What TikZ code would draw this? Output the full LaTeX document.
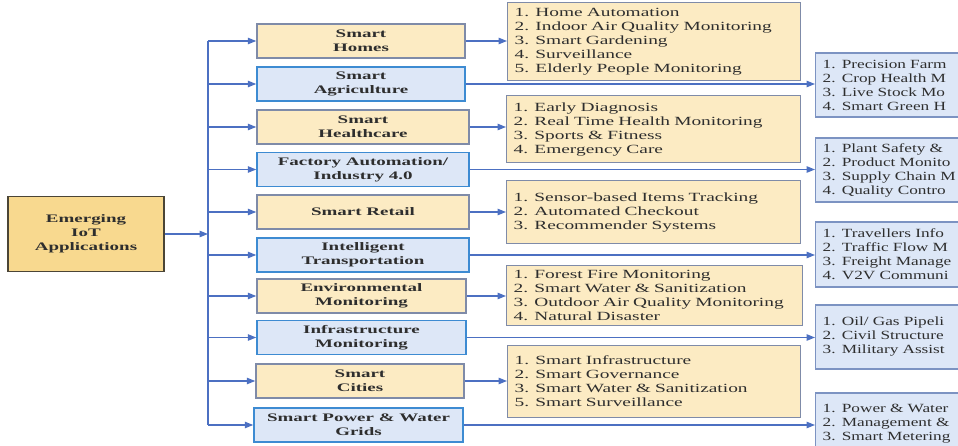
\documentclass[tikz,border=0pt]{standalone}
\usepackage{fontspec}
\usetikzlibrary{arrows.meta}
\setmainfont{Liberation Serif}
\newfontfamily\listfont[FakeStretch=1.55]{Liberation Serif}
\newfontfamily\sidefont[FakeStretch=1.38]{Liberation Serif}
\newfontfamily\catfont[FakeStretch=1.65]{Liberation Serif}

\definecolor{rootfill}{HTML}{F8D98F}
\definecolor{rootedge}{HTML}{4B4536}
\definecolor{orfill}{HTML}{FCEBC3}
\definecolor{oredge}{HTML}{7F8BA8}
\definecolor{blfill}{HTML}{DDE7F7}
\definecolor{bledge}{HTML}{3D8BD2}
\definecolor{rledge}{HTML}{7C93C2}
\definecolor{arrowc}{HTML}{4C70C2}
\definecolor{inkc}{HTML}{2E2E2E}

\tikzset{
  catstyle/.style={font=\catfont\bfseries\fontsize{11.5}{14}\selectfont, text=inkc, align=center},
  liststyle/.style={font=\listfont\fontsize{12.5}{14}\selectfont, text=inkc, align=left},
  sidestyle/.style={font=\sidefont\fontsize{12.5}{14}\selectfont, text=inkc, align=left},
  rootbox/.style={draw=rootedge, fill=rootfill, line width=1.6pt, catstyle,
    minimum width=156pt, minimum height=75pt, inner sep=0pt},
  catO/.style={draw=oredge, fill=orfill, line width=1.5pt, catstyle,
    minimum height=34pt, inner sep=0pt},
  catB/.style={draw=bledge, fill=blfill, line width=1.5pt, catstyle,
    minimum height=34pt, inner sep=0pt},
  listO/.style={draw=oredge, fill=orfill, line width=1.3pt, liststyle,
    anchor=north west, inner xsep=7pt, inner ysep=0pt},
  listB/.style={draw=rledge, fill=blfill, line width=1.3pt, sidestyle,
    anchor=west, inner xsep=7pt, inner ysep=0pt, text width=156pt, minimum width=170pt},
  conn/.style={draw=arrowc, line width=1.2pt},
  arr/.style={conn, -{Triangle[length=8.5pt,width=6.5pt]}},
}

\begin{document}
\begin{tikzpicture}[x=1pt,y=-1pt]
\useasboundingbox (0,0) rectangle (958,446);
\clip (0,0) rectangle (958,446);

% root of the tree
\node[rootbox] (root) at (86,234) {Emerging\\IoT\\Applications};

% application areas
\node[catO, minimum width=208pt] (homes)  at (361,41)    {Smart\\Homes};
\node[catB, minimum width=208pt] (agri)   at (361,84)    {Smart\\Agriculture};
\node[catO, minimum width=212pt] (health) at (363,127)   {Smart\\Healthcare};
\node[catB, minimum width=212pt] (fact)   at (363,169.5) {Factory Automation/\\Industry 4.0};
\node[catO, minimum width=212pt] (retail) at (363,212)   {Smart Retail};
\node[catB, minimum width=212pt] (trans)  at (363,255)   {Intelligent\\Transportation};
\node[catO, minimum width=209pt] (env)    at (361.5,296) {Environmental\\Monitoring};
\node[catB, minimum width=209pt] (infra)  at (361.5,337.5) {Infrastructure\\Monitoring};
\node[catO, minimum width=208pt] (cities) at (360,381)   {Smart\\Cities};
\node[catB, minimum width=209pt] (power)  at (358.5,425) {Smart Power \& Water\\Grids};

% use-case lists, middle column
\node[listO, text width=279pt, minimum height=78pt] (lhomes) at (507,2)
  {1. Home Automation\\2. Indoor Air Quality Monitoring\\3. Smart Gardening\\4. Surveillance\\5. Elderly People Monitoring};
\node[listO, text width=280pt, minimum height=67pt] (lhealth) at (506,95)
  {1. Early Diagnosis\\2. Real Time Health Monitoring\\3. Sports \& Fitness\\4. Emergency Care};
\node[listO, text width=280pt, minimum height=63pt] (lretail) at (506,180)
  {1. Sensor-based Items Tracking\\2. Automated Checkout\\3. Recommender Systems};
\node[listO, text width=282pt, minimum height=60pt] (lenv) at (506,265)
  {1. Forest Fire Monitoring\\2. Smart Water \& Sanitization\\3. Outdoor Air Quality Monitoring\\4. Natural Disaster};
\node[listO, text width=279pt, minimum height=72pt] (lcities) at (507,345)
  {1. Smart Infrastructure\\2. Smart Governance\\3. Smart Water \& Sanitization\\5. Smart Surveillance};

% use-case lists, right column (boxes run on past the right border)
\node[listB, minimum height=64pt] (lagri) at (815,85)
  {1. Precision Farm\\2. Crop Health M\\3. Live Stock Mo\\4. Smart Green H};
\node[listB, minimum height=64pt] (lfact) at (815,170)
  {1. Plant Safety \&\\2. Product Monito\\3. Supply Chain M\\4. Quality Contro};
\node[listB, minimum height=65pt] (ltrans) at (815,254.5)
  {1. Travellers Info\\2. Traffic Flow M\\3. Freight Manage\\4. V2V Communi};
\node[listB, minimum height=64pt] (linfra) at (815,337)
  {1. Oil/ Gas Pipeli\\2. Civil Structure\\3. Military Assist};
\node[listB, minimum height=62pt] (lpower) at (815,424)
  {1. Power \& Water\\2. Management \&\\3. Smart Metering};

% trunk of the tree
\coordinate (ttop) at (208,41);
\coordinate (tbot) at (208,425);
\coordinate (tmid) at (208,234);
\draw[conn] (ttop) -- (tbot);
\draw[arr] (root.east) -- (tmid);

% branches to the application areas
\foreach \c in {homes,agri,health,fact,retail,trans,env,infra,cities,power}
  \draw[arr] (\c.west -| ttop) -- (\c.west);

% links to the lists
\draw[arr] (homes.east)  -- (homes.east -| lhomes.west);
\draw[arr] (health.east) -- (health.east -| lhealth.west);
\draw[arr] (retail.east) -- (retail.east -| lretail.west);
\draw[arr] (env.east)    -- (env.east -| lenv.west);
\draw[arr] (cities.east) -- (cities.east -| lcities.west);
\draw[arr] (agri.east)   -- (agri.east -| lagri.west);
\draw[arr] (fact.east)   -- (fact.east -| lfact.west);
\draw[arr] (trans.east)  -- (trans.east -| ltrans.west);
\draw[arr] (infra.east)  -- (infra.east -| linfra.west);
\draw[arr] (power.east)  -- (power.east -| lpower.west);
\end{tikzpicture}
\end{document}
